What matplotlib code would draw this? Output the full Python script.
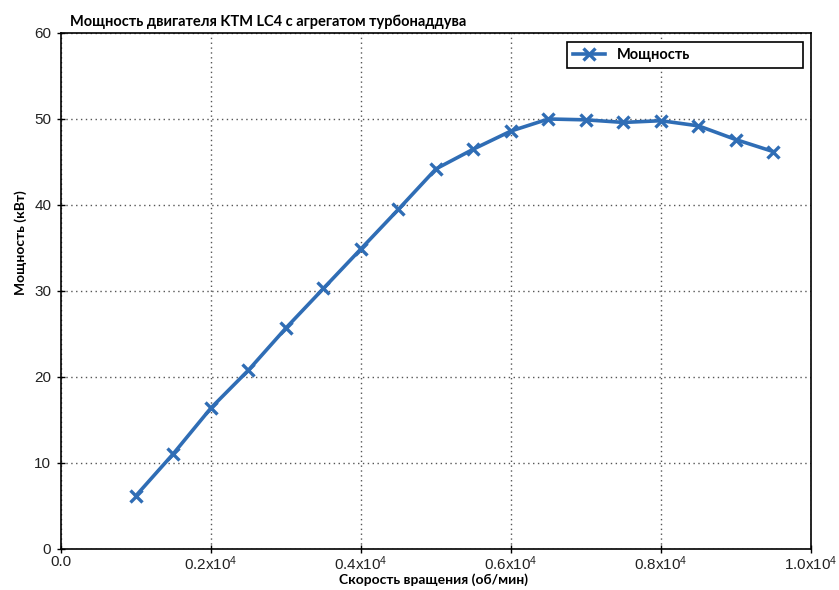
import matplotlib
matplotlib.use("Agg")
import matplotlib.pyplot as plt
from matplotlib.ticker import FixedLocator, FixedFormatter

# Мощность двигателя KTM LC4 с турбонаддувом по оборотам
rpm = [1000, 1500, 2000, 2500, 3000, 3500, 4000, 4500, 5000,
       5500, 6000, 6500, 7000, 7500, 8000, 8500, 9000, 9500]
power_kw = [6.2, 11.1, 16.4, 20.8, 25.7, 30.3, 34.9, 39.5, 44.2,
            46.5, 48.6, 50.0, 49.9, 49.6, 49.8, 49.2, 47.6, 46.2]

x_ticks = [0, 2000, 4000, 6000, 8000, 10000]
x_labels = ["0.0", "0.2x10$^4$", "0.4x10$^4$", "0.6x10$^4$", "0.8x10$^4$", "1.0x10$^4$"]
y_ticks = [0, 10, 20, 30, 40, 50, 60]

plt.rcParams['font.family'] = ['Liberation Sans', 'DejaVu Sans']
plt.rcParams['mathtext.default'] = 'regular'

fig = plt.figure(figsize=(8.39, 5.9), dpi=100)
ax = fig.add_axes([0.0727, 0.0695, 0.8939, 0.8746])

ax.plot(rpm, power_kw, color='#2f6db5', linewidth=2.6, marker='x',
        markersize=8, markeredgewidth=2.4, label='Мощность')

ax.set_xlim(0, 10000)
ax.set_ylim(0, 60)
ax.xaxis.set_major_locator(FixedLocator(x_ticks))
ax.xaxis.set_major_formatter(FixedFormatter(x_labels))
ax.set_yticks(y_ticks)
ax.tick_params(direction='inout', length=6, width=1, labelsize=11,
               labelcolor='#222222')
ax.tick_params(axis='x', pad=1)
ax.tick_params(axis='y', pad=4)

ax.grid(True, linestyle=(0, (1, 2.5)), color='#555555', linewidth=1)
for s in ax.spines.values():
    s.set_linewidth(1.2)

lbl_font = ['Lato', 'DejaVu Sans']
ax.set_xlabel('Скорость вращения (об/мин)', fontsize=10, fontweight='bold',
              family=lbl_font)
ax.xaxis.set_label_coords(0.497, -0.047)
ax.set_ylabel('Мощность (кВт)', fontsize=10, fontweight='bold', family=lbl_font)
ax.yaxis.set_label_coords(-0.045, 0.594)

fig.text(0.083, 0.963, 'Мощность двигателя KTM LC4 с агрегатом турбонаддува',
         fontsize=10.5, fontweight='bold', family=lbl_font, va='center')

leg = ax.legend(loc='upper left', bbox_to_anchor=(0.675, 0.9167, 0.315, 0.066),
                mode='expand', borderaxespad=0, fancybox=False, framealpha=1,
                edgecolor='black', handlelength=2.2,
                prop={'family': lbl_font, 'weight': 'bold', 'size': 10.5})
leg.get_frame().set_linewidth(1.2)

fig.savefig('out.png', dpi=100)
